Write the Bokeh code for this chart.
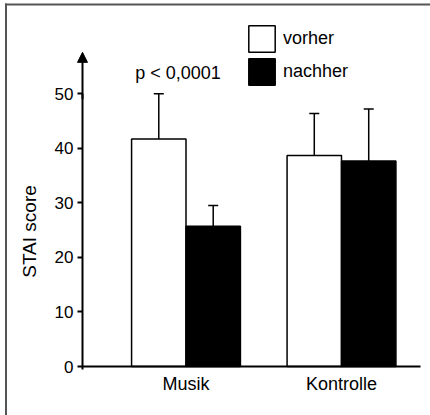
from bokeh.plotting import figure
from bokeh.models import (ColumnDataSource, Whisker, TeeHead, Arrow, NormalHead,
                          FixedTicker, Legend, LegendItem, Label, Range1d)
from bokeh.embed import file_html
from bokeh.resources import INLINE

# ---- data ----
categories = ["Musik", "Kontrolle"]
group_pos = [1, 2]
series = ["vorher", "nachher"]
vorher = [41.7, 38.7]
nachher = [25.7, 37.7]
vorher_upper = [50.0, 46.4]
nachher_upper = [29.5, 47.2]
y_ticks = [0, 10, 20, 30, 40, 50]
p_text = "p < 0,0001"

FONT = "Liberation Sans"
bar_w = 0.35
W, H = 430, 415
x0, x1 = -0.19293, 2.57235
y0, y1 = -8.984, 67.107
x_axis_at = 0.3344
x_axis_end = 2.508
y_arrow_tip = 57.6

p = figure(width=W, height=H,
           x_range=Range1d(x0, x1), y_range=Range1d(y0, y1),
           output_backend="svg", toolbar_location=None,
           min_border=0, min_border_left=0, min_border_right=0,
           min_border_top=0, min_border_bottom=0)
p.outline_line_color = None
p.border_fill_color = "white"
p.background_fill_color = "white"
p.xgrid.visible = False
p.ygrid.visible = False

# frame border (left and top only), drawn as plain line annotations
px_x = W / (x1 - x0)
px_y = H / (y1 - y0)
bx = x0 + 5.5 / px_x
by = y1 - 4.0 / px_y
for xs, ys, xe, ye in ((bx, y0, bx, by + 1 / px_y), (bx - 1 / px_x, by, x1, by)):
    p.add_layout(Arrow(start=None, end=None, x_start=xs, y_start=ys, x_end=xe, y_end=ye,
                       line_color="#555555", line_width=2))

src_v = ColumnDataSource(dict(x=[g - bar_w / 2 for g in group_pos], top=vorher, upper=vorher_upper))
src_n = ColumnDataSource(dict(x=[g + bar_w / 2 for g in group_pos], top=nachher, upper=nachher_upper))

for src in (src_v, src_n):
    w = Whisker(source=src, base="x", lower="top", upper="upper",
                upper_head=TeeHead(size=10, line_width=1.5, line_color="black"),
                lower_head=None, line_width=1.5, line_color="black")
    p.add_layout(w)

r_v = p.vbar(x="x", top="top", bottom=0, width=bar_w, source=src_v,
             fill_color="white", line_color="black", line_width=1.5)
r_n = p.vbar(x="x", top="top", bottom=0, width=bar_w, source=src_n,
             fill_color="black", line_color="black", line_width=1.5)

# axes placed inside the frame
yax = p.yaxis[0]
yax.fixed_location = x_axis_at
yax.bounds = (-0.5, 50)
yax.ticker = FixedTicker(ticks=y_ticks)
yax.axis_label = "STAI score"
yax.axis_label_text_font = FONT
yax.axis_label_text_font_style = "normal"
yax.axis_label_text_font_size = "19px"
yax.axis_label_standoff = 12
yax.major_label_text_font = FONT
yax.major_label_text_font_size = "17px"
yax.major_label_standoff = 4
yax.major_tick_out = 5
yax.major_tick_in = 0
yax.minor_tick_line_color = None

xax = p.xaxis[0]
xax.fixed_location = 0
xax.bounds = (x_axis_at, x_axis_end)
xax.ticker = FixedTicker(ticks=group_pos)
xax.major_label_overrides = {g: c for g, c in zip(group_pos, categories)}
xax.major_label_text_font = FONT
xax.major_label_text_font_size = "18px"
xax.major_label_standoff = 7
xax.major_tick_line_color = None
xax.major_tick_out = 0
xax.minor_tick_line_color = None

for ax in (xax, yax):
    ax.axis_line_width = 2
    ax.axis_line_color = "black"
    ax.major_tick_line_width = 2
    ax.major_label_text_color = "black"
    ax.axis_label_text_color = "black"

# arrow on y axis
p.add_layout(Arrow(end=NormalHead(size=10, fill_color="black", line_color="black", line_width=1),
                   x_start=x_axis_at, y_start=49, x_end=x_axis_at, y_end=y_arrow_tip,
                   line_width=2, line_color="black"))

# significance text
p.add_layout(Label(x=group_pos[0], y=53.85, text=p_text, x_offset=-8,
                   text_align="center", text_baseline="alphabetic",
                   text_font=FONT, text_font_size="18px", text_color="black"))

legend = Legend(items=[LegendItem(label=series[0], renderers=[r_v]),
                       LegendItem(label=series[1], renderers=[r_n])],
                location=(245, 327), glyph_width=33, glyph_height=33, spacing=-2,
                padding=0, margin=0, border_line_color=None, background_fill_alpha=0,
                label_text_font=FONT, label_text_font_size="18px", label_standoff=5,
                label_text_color="black")
p.add_layout(legend)

open("out.html", "w").write(file_html(p, INLINE))
